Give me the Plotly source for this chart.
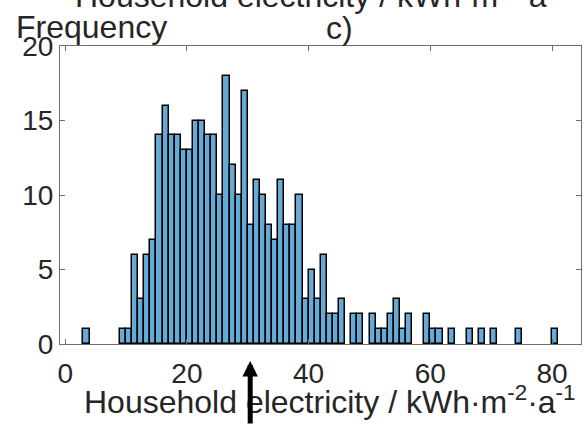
import plotly.graph_objects as go

# ---- data (bins of width 1, left edges) ----
bin_left = [3, 9, 10, 11, 12, 13, 14, 15, 16, 17, 18, 19, 20, 21, 22, 23, 24, 25, 26,
            27, 28, 29, 30, 31, 32, 33, 34, 35, 36, 37, 38, 39, 40, 41, 42, 43, 44,
            45, 47, 48, 50, 51, 52, 53, 54, 55, 56, 59, 60, 61, 63, 66, 68, 70, 74, 80]
counts = [1, 1, 1, 6, 3, 6, 7, 14, 16, 14, 14, 13, 13, 15, 15, 14, 14, 10, 18,
          12, 10, 17, 8, 11, 10, 8, 7, 11, 8, 8, 10, 3, 5, 3, 6, 2, 2,
          3, 2, 2, 2, 1, 1, 2, 3, 1, 2, 2, 1, 1, 1, 1, 1, 1, 1, 1]
bin_width = 1
x_ticks = [0, 20, 40, 60, 80]
y_ticks = [0, 5, 10, 15, 20]
x_range = [-0.85, 84.75]
y_range = [0, 20]
arrow_x = 30.4

title_text = "Household electricity / kWh·m<sup>-2</sup>·a<sup>-1</sup>"
xlabel_text = "Household electricity / kWh·m<sup>-2</sup>·a<sup>-1</sup>"
ylabel_text = "Frequency"
panel_text = "c)"

FONT = "Liberation Sans, Arial, sans-serif"
TXT = "#262626"
AX = "#6e6e6e"

W, H = 584, 425
ml, mr, mt, mb = 60, 3, 46, 81
pw, ph = W - ml - mr, H - mt - mb


def px_x(p):
    return (p - ml) / pw


def px_y(p):
    return (H - mb - p) / ph


centers = [b + bin_width / 2 for b in bin_left]

fig = go.Figure()
fig.add_trace(go.Bar(
    x=centers, y=counts, width=bin_width,
    marker=dict(color="rgba(0,114,189,0.6)", line=dict(color="black", width=1.5)),
    showlegend=False, hoverinfo="skip",
))

axis_common = dict(
    showline=True, linecolor=AX, linewidth=1, mirror="ticks",
    ticks="inside", ticklen=5, tickwidth=1, tickcolor=AX,
    showgrid=False, zeroline=False,
    tickfont=dict(family=FONT, size=28, color=TXT),
)

fig.update_layout(
    width=W, height=H,
    margin=dict(l=ml, r=mr, t=mt, b=mb, pad=0),
    paper_bgcolor="white", plot_bgcolor="white",
    xaxis=dict(range=x_range, tickvals=x_ticks, ticklabelstandoff=4, **axis_common),
    yaxis=dict(range=y_range, tickvals=y_ticks, **axis_common),
    bargap=0,
)

fig.add_annotation(text=title_text, xref="paper", yref="paper",
                   x=px_x(321), y=px_y(16), xanchor="center", yanchor="bottom",
                   showarrow=False, font=dict(family=FONT, size=32, color=TXT))
fig.add_annotation(text=ylabel_text, xref="paper", yref="paper",
                   x=px_x(14), y=px_y(27), xanchor="left", yanchor="middle",
                   showarrow=False, font=dict(family=FONT, size=32, color=TXT))
fig.add_annotation(text=panel_text, xref="paper", yref="paper",
                   x=px_x(339), y=px_y(28), xanchor="center", yanchor="middle",
                   showarrow=False, font=dict(family=FONT, size=32, color=TXT))
fig.add_annotation(text=xlabel_text, xref="paper", yref="paper",
                   x=px_x(578), y=px_y(400), xanchor="right", yanchor="middle",
                   showarrow=False, font=dict(family=FONT, size=32, color=TXT))
# arrow (drawn last so it sits above the axis label)
fig.add_annotation(text="", xref="x", yref="paper", x=arrow_x, y=px_y(361),
                   showarrow=True, ax=0, ay=80, arrowhead=2, arrowsize=0.62,
                   arrowwidth=5, arrowcolor="black", standoff=0)

fig.write_html("out.html")
